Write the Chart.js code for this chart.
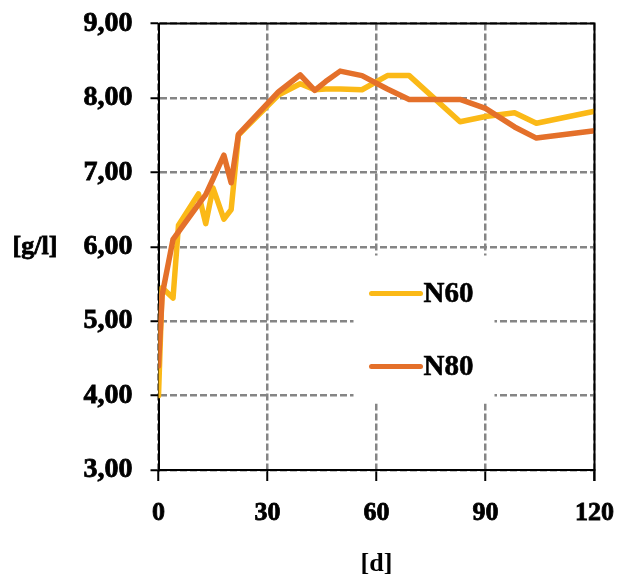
<!DOCTYPE html>
<html>
<head>
<meta charset="utf-8">
<script src="https://cdn.jsdelivr.net/npm/chart.js@4/dist/chart.umd.min.js"></script>
<style>
  html, body { margin: 0; padding: 0; background: #fff; }
  #wrap { width: 618px; height: 580px; position: relative; }
</style>
</head>
<body>
<div id="wrap"><canvas id="c" width="618" height="580"></canvas></div>
<script>
// Sampling days and measured concentrations [g/l]
const days = [0, 1, 4, 5.5, 11, 13, 15, 18, 20, 22, 33, 39, 43, 46, 50, 56, 63, 69, 83, 90, 98, 104, 120];
const n60  = [4.00, 5.45, 5.31, 6.29, 6.71, 6.31, 6.79, 6.37, 6.50, 7.50, 8.04, 8.19, 8.11, 8.12, 8.12, 8.11, 8.30, 8.30, 7.68, 7.75, 7.80, 7.66, 7.82];
const n80  = [4.40, 5.35, 6.10, 6.20, 6.57, 6.70, 6.91, 7.23, 6.86, 7.51, 8.08, 8.31, 8.10, 8.22, 8.36, 8.30, 8.12, 7.98, 7.98, 7.86, 7.61, 7.46, 7.56];
const seriesNames = ['N60', 'N80'];
const seriesColors = ['#FBB917', '#E4702A'];
const xTicks = [0, 30, 60, 90, 120];
const yTicks = [3, 4, 5, 6, 7, 8, 9];
const yTitle = '[g/l]';
const xTitle = '[d]';

const FONT = 'Liberation Serif';
const toPoints = (xs, ys) => xs.map((x, i) => ({ x: x, y: ys[i] }));
const fmt = v => v.toFixed(2).replace('.', ',');

// Frame on top/right, horizontal y title, and the in-plot legend
const decor = {
  id: 'decor',
  beforeDatasetsDraw(chart) {
    const { ctx, chartArea: a } = chart;
    ctx.save();
    // legend panel
    const lx = a.left + 195, ly = a.top + 232, lw = 141, lh = 148;
    ctx.fillStyle = '#fff';
    ctx.fillRect(lx, ly, lw, lh);
    chart.data.datasets.forEach((ds, i) => {
      const y = ly + 38 + i * 73;
      ctx.strokeStyle = ds.borderColor;
      ctx.lineWidth = 5;
      ctx.lineCap = 'round';
      ctx.beginPath();
      ctx.moveTo(lx + 18, y);
      ctx.lineTo(lx + 67, y);
      ctx.stroke();
      ctx.fillStyle = '#000';
      ctx.strokeStyle = '#000';
      ctx.lineWidth = 0.6;
      ctx.font = 'bold 29px "' + FONT + '"';
      ctx.textAlign = 'left';
      ctx.textBaseline = 'middle';
      ctx.fillText(ds.label, lx + 70, y + 1);
      ctx.strokeText(ds.label, lx + 70, y + 1);
    });
    ctx.restore();
  },
  afterDraw(chart) {
    const { ctx, chartArea: a } = chart;
    ctx.save();
    ctx.strokeStyle = '#000';
    ctx.lineWidth = 2;
    ctx.beginPath();
    ctx.moveTo(a.left, a.top);
    ctx.lineTo(a.right, a.top);
    ctx.lineTo(a.right, a.bottom + 11);
    ctx.stroke();
    ctx.fillStyle = '#000';
    ctx.lineWidth = 0.8;
    ctx.font = 'bold 26px "' + FONT + '"';
    ctx.textAlign = 'center';
    ctx.textBaseline = 'middle';
    ctx.fillText(yTitle, 35, (a.top + a.bottom) / 2 + 1);
    ctx.strokeText(yTitle, 35, (a.top + a.bottom) / 2 + 1);
    ctx.restore();
  }
};

const gridDash = { display: true, color: '#000', width: 2, dash: [7, 3] };

new Chart(document.getElementById('c'), {
  type: 'scatter',
  data: {
    datasets: [
      { label: seriesNames[0], data: toPoints(days, n60), borderColor: seriesColors[0], backgroundColor: seriesColors[0], order: 1 },
      { label: seriesNames[1], data: toPoints(days, n80), borderColor: seriesColors[1], backgroundColor: seriesColors[1], order: 0 }
    ].map(d => Object.assign(d, {
      showLine: true, borderWidth: 5.5, pointRadius: 0, pointHoverRadius: 0,
      borderJoinStyle: 'round', borderCapStyle: 'round', tension: 0
    }))
  },
  options: {
    responsive: false,
    animation: false,
    events: [],
    layout: { padding: { left: 0, right: 23.5, top: 23.5, bottom: 0 } },
    plugins: { legend: { display: false }, tooltip: { enabled: false } },
    scales: {
      x: {
        type: 'linear',
        min: 0, max: 120,
        afterBuildTicks: s => { s.ticks = xTicks.map(v => ({ value: v })); },
        afterFit: s => { s.height = 110; s.paddingLeft = 0; s.paddingRight = 0; },
        grid: {
          color: '#858585', lineWidth: 2.5,
          drawTicks: true, tickLength: 11, tickColor: '#000', tickWidth: 2, tickBorderDash: []
        },
        border: Object.assign({}, gridDash),
        ticks: {
          color: '#000', padding: 17, maxRotation: 0,
          textStrokeColor: '#000', textStrokeWidth: 0.8,
          font: { family: FONT, size: 26, weight: 'bold' },
          callback: v => String(v)
        },
        title: {
          display: true, text: xTitle, color: '#000',
          font: { family: FONT, size: 26, weight: 'bold' },
          padding: { top: 0, bottom: 0 }
        }
      },
      y: {
        type: 'linear',
        min: 3, max: 9,
        afterBuildTicks: s => { s.ticks = yTicks.map(v => ({ value: v })); },
        afterFit: s => { s.width = 158.5; s.paddingTop = 0; s.paddingBottom = 0; },
        grid: {
          color: '#858585', lineWidth: 2.5,
          drawTicks: true, tickLength: 8, tickColor: '#000', tickWidth: 2, tickBorderDash: []
        },
        border: Object.assign({}, gridDash),
        ticks: {
          color: '#000', padding: 18,
          textStrokeColor: '#000', textStrokeWidth: 0.8,
          font: { family: FONT, size: 28, weight: 'bold' },
          callback: v => fmt(v)
        }
      }
    }
  },
  plugins: [decor]
});
</script>
</body>
</html>
